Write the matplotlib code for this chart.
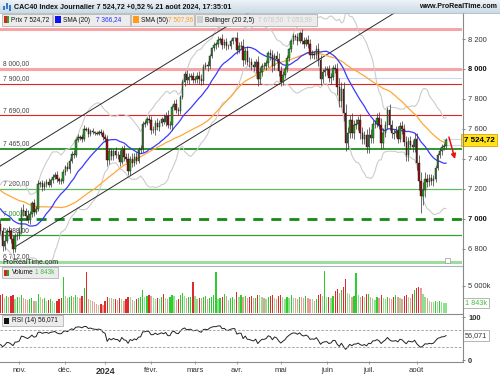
import numpy as np
import pandas as pd
import matplotlib
matplotlib.use("Agg")
import matplotlib.pyplot as plt
import matplotlib.transforms as mtrans
from matplotlib.patches import Rectangle
from matplotlib.lines import Line2D

plt.rcParams['font.family'] = ['Liberation Sans', 'DejaVu Sans']

W, H = 500, 375

# ---------------- data ----------------
# closes before the visible window (Aug 9 - Oct 18, 2023), used only for the indicators
pre_close = [7322, 7390, 7341, 7328, 7267, 7260, 7211, 7164, 7204, 7224, 7253, 7214, 7229, 7288, 7370, 7364, 7317,
             7296, 7280, 7256, 7240, 7197, 7241, 7279, 7245, 7222, 7308, 7379, 7290, 7282, 7330, 7214, 7184, 7123,
             7074, 7071, 7116, 7135,
             7068, 7033, 7021, 7072, 7060, 7022, 7131, 7162, 7104, 7003, 7023, 7017, 6966]

close_oct = [6916, 6816, 6851, 6915, 6914, 6863, 6795, 6881, 6886]
close_nov = [6911, 7060, 7048, 7016, 6990, 7034, 7101, 7045, 7062, 7234, 7236, 7209, 7233, 7245, 7226, 7260,
             7277, 7293, 7265, 7251, 7250, 7311]
close_dec = [7346, 7330, 7386, 7434, 7422, 7526, 7544, 7543, 7531, 7597, 7596, 7568, 7587, 7576, 7571, 7568,
             7578, 7572, 7543]
close_jan = [7530, 7394, 7450, 7420, 7450, 7427, 7426, 7380, 7465, 7411, 7398, 7318, 7401, 7372, 7413, 7388,
             7456, 7464, 7634, 7640, 7665, 7656]
close_feb = [7589, 7592, 7641, 7612, 7636, 7665, 7647, 7689, 7625, 7625, 7743, 7768, 7728, 7720, 7812, 7911,
             7966, 7929, 7948, 7954, 7927]
close_mar = [7934, 7956, 7931, 7917, 8016, 8028, 8019, 8088, 8138, 8161, 8164, 8195, 8201, 8161, 8179, 8151,
             8151, 8184, 8204, 8205]
close_apr = [8130, 8153, 8154, 8062, 8119, 8049, 8045, 8024, 8011, 8045, 7932, 7981, 8023, 8022, 8040, 8106,
             8091, 8017, 8088, 8065, 7985]
close_may = [7915, 7957, 7997, 8075, 8131, 8187, 8219, 8215, 8188, 8240, 8188, 8167, 8195, 8169, 8092, 8102,
             8094, 8132, 8058, 7935, 7978, 7993]
close_jun = [7998, 7937, 7949, 8006, 8002, 7877, 7789, 7865, 7708, 7503, 7571, 7660, 7570, 7628, 7629, 7662,
             7574, 7531, 7557, 7479]
close_jul = [7561, 7538, 7632, 7634, 7675, 7628, 7508, 7573, 7627, 7724, 7627, 7571, 7570, 7586, 7534, 7622,
             7599, 7513, 7427, 7517, 7492, 7477, 7531]
close_aug = [7374, 7251, 7148, 7192, 7264, 7246, 7269, 7250, 7267, 7339, 7423, 7449, 7481, 7486, 7524.72]

wick_up = [30, 25, 40, 20, 35, 15, 30, 20, 25,
           30, 20, 35, 25, 40, 20, 15, 30, 20, 25, 18, 22, 15, 20, 25, 12, 18, 20, 25, 15, 20, 18,
           15, 30, 20, 18, 25, 12, 20, 15, 25, 30, 18, 15, 12, 20, 10, 15, 12, 18, 20,
           25, 30, 20, 25, 18, 30, 22, 35, 20, 25, 30, 40, 20, 35, 25, 30, 20, 25, 15, 20, 15, 25,
           30, 25, 20, 30, 25, 15, 35, 25, 40, 30, 15, 25, 30, 20, 15, 20, 18, 30, 25, 20, 25,
           20, 25, 30, 35, 15, 20, 25, 15, 12, 20, 18, 25, 15, 30, 20, 25, 18, 15, 12, 10,
           40, 25, 30, 45, 20, 35, 30, 25, 30, 20, 40, 35, 20, 25, 18, 15, 25, 35, 20, 30, 40,
           35, 30, 20, 15, 12, 15, 20, 18, 25, 15, 30, 25, 20, 35, 30, 25, 20, 25, 40, 35, 20, 30,
           25, 30, 25, 20, 30, 40, 60, 45, 50, 60, 40, 30, 45, 30, 35, 25, 40, 35, 30, 45,
           50, 40, 30, 25, 30, 35, 45, 30, 25, 20, 40, 35, 25, 30, 35, 25, 30, 35, 40, 30, 35, 30, 40,
           40, 50, 60, 55, 45, 35, 30, 30, 25, 20, 15, 20, 18, 20, 15]
wick_dn = [20, 30, 25, 15, 30, 25, 22, 20, 25,
           25, 15, 30, 25, 20, 25, 20, 30, 15, 10, 20, 25, 15, 20, 18, 15, 20, 12, 22, 18, 20, 15,
           20, 15, 25, 15, 20, 10, 15, 20, 18, 15, 12, 20, 15, 10, 15, 12, 10, 15, 20,
           20, 40, 30, 25, 30, 20, 25, 30, 15, 25, 20, 27, 25, 30, 20, 25, 15, 20, 20, 25, 15, 20,
           25, 20, 30, 20, 25, 20, 15, 30, 20, 25, 30, 20, 25, 30, 20, 15, 25, 20, 30, 25, 20,
           20, 25, 30, 25, 20, 15, 30, 20, 15, 20, 25, 15, 20, 30, 18, 25, 20, 15, 18, 15,
           30, 25, 20, 40, 30, 25, 35, 30, 25, 35, 45, 30, 25, 20, 30, 25, 30, 40, 25, 20, 30,
           30, 25, 20, 15, 20, 15, 18, 20, 25, 15, 20, 25, 15, 30, 25, 20, 30, 25, 35, 40, 30, 25,
           30, 25, 35, 20, 30, 50, 45, 40, 55, 50, 40, 35, 30, 40, 30, 35, 40, 30, 35, 40,
           40, 35, 30, 25, 20, 30, 40, 35, 30, 25, 35, 30, 35, 25, 30, 20, 35, 30, 45, 40, 30, 35, 30,
           50, 60, 110, 60, 45, 35, 30, 25, 30, 20, 15, 20, 25, 20, 20]

volume_k = [3300, 3500, 2700, 3100, 2900, 3200, 3400, 2500, 3000,
            2900, 3400, 2800, 2600, 2400, 2500, 2700, 2300, 2200, 3600, 3000, 2600, 2800, 2200, 2400, 2600,
            2300, 1900, 2200, 2500, 2700, 6700,
            3200, 2800, 3000, 3100, 2900, 3300, 3000, 2800, 3200, 4600, 7600, 2600, 2400, 2300, 2100, 1600,
            1500, 1700, 1400,
            2200, 3000, 2800, 2700, 2500, 2600, 2400, 2800, 2500, 2300, 2600, 3000, 2900, 2400, 2300, 2500,
            2800, 3000, 4300, 2900, 3100, 3400,
            3200, 2700, 2500, 2800, 2600, 2900, 3600, 2700, 2500, 3000, 3300, 3100, 2400, 2600, 3400, 3700,
            3200, 2700, 2900, 3000, 5700,
            3100, 2600, 2800, 2700, 2900, 3100, 2600, 2800, 3000, 3300, 7600, 2500, 2700, 2900, 3600, 3200,
            2400, 2800, 2900, 2600,
            3800, 3000, 3300, 2900, 3100, 2800, 3000, 3200, 2700, 2800, 3400, 3300, 2900, 2700, 2500, 2900,
            3100, 3300, 2800, 2600, 3200,
            3400, 3000, 2600, 2900, 2700, 3300, 2800, 2700, 2600, 3000, 2900, 2800, 3100, 2700, 2600, 2500,
            2200, 2500, 3300, 3500, 3100, 7800,
            2900, 3000, 2800, 3200, 4000, 4500, 3700, 4200, 4800, 6300, 3700, 3500, 3000, 3200, 7400, 3400,
            3000, 3200, 2900, 3500,
            3600, 3000, 2700, 2400, 2900, 2700, 3300, 2800, 2600, 3000, 2700, 2600, 2900, 3400, 3000, 2800,
            2600, 3200, 3300, 3000, 2800, 3600, 4300,
            4600, 4800, 4600, 3500, 3000, 2800, 2200, 2100, 2000, 2300, 2100, 2200, 2000, 1900, 1843]

holidays = ['2023-12-25', '2023-12-26', '2024-01-01', '2024-03-29', '2024-04-01', '2024-05-01']
month_starts = ['2023-11-01', '2023-12-01', '2024-01-01', '2024-02-01', '2024-03-01', '2024-04-01',
                '2024-05-01', '2024-06-01', '2024-07-01', '2024-08-01']
month_labels = ['nov.', 'déc.', '2024', 'févr.', 'mars', 'avr.', 'mai', 'juin', 'juil.', 'août']

levels = [8270, 8000, 7900, 7690, 7465, 7200, 7000, 6888, 6712]
level_labels = ['8 270,00', '8 000,00', '7 900,00', '7 690,00', '7 465,00', '7 200,00', '7 000,00',
                '6 888,00', '6 712,00']
level_colors = ['#f5a5a5', '#f5a5a5', '#e02424', '#e02424', '#1f8f1f', '#62bb62', '#168a16', '#34a034',
                '#9edb9e']
level_widths = [2.2, 2.2, 0.8, 0.8, 1.3, 0.9, 2.0, 0.9, 2.2]

price_ticks = [6800, 7000, 7200, 7400, 7600, 7800, 8000, 8200]
price_ticklabels = ['6 800', '7 000', '7 200', '7 400', '7 600', '7 800', '8 000', '8 200']

# trend channel anchors (trading-day index, price)
lower_chan = [(6.0, 6803), (162.3, 8150)]
upper_chan_start = (-0.23, 7350)
# red arrow anchors
arrow_from = (214.4, 7545)
arrow_to = (217.3, 7398)

last_price = 7524.72
sma20_last_txt, sma50_last_txt = '7 366,24', '7 507,96'
bb_txt = '7 678,50  7 053,99'
rsi_last_txt = '56,071'
vol_last_txt = '1 843k'

# ---------------- derived series ----------------
close = close_oct + close_nov + close_dec + close_jan + close_feb + close_mar + close_apr + close_may \
    + close_jun + close_jul + close_aug
dates = pd.bdate_range('2023-10-19', '2024-08-21')
dates = dates[~dates.isin(pd.to_datetime(holidays))]
n = len(close)
x = np.arange(n)

allc = pd.Series(pre_close + close, dtype=float)
sma20 = allc.rolling(20).mean().values[-n:]
sma50 = allc.rolling(50).mean().values[-n:]
std20 = allc.rolling(20).std(ddof=0).values[-n:]
bb_up = sma20 + 2.5 * std20
bb_dn = sma20 - 2.5 * std20
d = allc.diff()
g = d.clip(lower=0).ewm(alpha=1 / 14, adjust=False).mean()
l = (-d.clip(upper=0)).ewm(alpha=1 / 14, adjust=False).mean()
rsi = (100 - 100 / (1 + g / l)).values[-n:]

c = np.array(close, dtype=float)
o = np.r_[pre_close[-1], c[:-1]]
hi = np.maximum(o, c) + np.array(wick_up)
lo = np.minimum(o, c) - np.array(wick_dn)
up = c >= o

# ---------------- figure ----------------
fig = plt.figure(figsize=(W / 100, H / 100), dpi=100)
fig.patch.set_facecolor('white')


def fy(y):
    return 1 - y / H


def frect(x0, y0, w, h, **kw):
    fig.add_artist(Rectangle((x0 / W, fy(y0 + h)), w / W, h / H, transform=fig.transFigure, **kw))


def fline(x0, y0, x1, y1, **kw):
    fig.add_artist(Line2D([x0 / W, x1 / W], [fy(y0), fy(y1)], transform=fig.transFigure, **kw))


PW = 462
axp = fig.add_axes([0, fy(265), PW / W, 252 / H])
axv = fig.add_axes([0, fy(313), PW / W, 47 / H], sharex=axp)
axr = fig.add_axes([0, fy(361), PW / W, 47 / H], sharex=axp)
for a in (axp, axv, axr):
    for s in a.spines.values():
        s.set_visible(False)
    a.tick_params(axis='x', which='both', bottom=False, labelbottom=False)
    a.yaxis.tick_right()
    a.tick_params(axis='y', length=2.5, width=0.5, color='#555555', pad=2, labelsize=5.4,
                  labelcolor='#333333')

axp.set_xlim(-0.23, 220.65)
axp.set_ylim(6690, 8374)

# price panel ------------------------------------------------
blend = mtrans.blended_transform_factory(axp.transAxes, axp.transData)
for lv, lab, col, lw in zip(levels, level_labels, level_colors, level_widths):
    if lv == 7000:
        axp.axhline(lv, color=col, lw=lw, dashes=(3.6, 2.9), zorder=1)
        tcol = '#2a9a2a'
    else:
        axp.axhline(lv, color=col, lw=lw, zorder=1)
        tcol = '#444444'
    axp.text(0.006, lv + 12, lab, transform=blend, fontsize=4.9, color=tcol, va='bottom', ha='left', zorder=2)

# faint horizontal marks on the right part
axp.hlines(7940, 161, 221, color='#cfd8f2', lw=0.8, zorder=1)
axp.hlines([7530, 7492], 211, 221, color='#cfd8f2', lw=0.8, zorder=1)

# channel lines
slope = (lower_chan[1][1] - lower_chan[0][1]) / (lower_chan[1][0] - lower_chan[0][0])
xe = 240
axp.plot([lower_chan[0][0], xe], [lower_chan[0][1], lower_chan[0][1] + slope * (xe - lower_chan[0][0])],
         color='#2a2a2a', lw=0.7, zorder=3)
axp.plot([upper_chan_start[0], xe], [upper_chan_start[1], upper_chan_start[1] + slope * (xe - upper_chan_start[0])],
         color='#2a2a2a', lw=0.7, zorder=3)

# indicators
axp.plot(x, bb_up, color='#cccccc', lw=0.8, zorder=2)
axp.plot(x, bb_dn, color='#cccccc', lw=0.8, zorder=2)
axp.plot(x, sma50, color='#ffa83a', lw=0.9, zorder=3)
axp.plot(x, sma20, color='#3a3aff', lw=0.9, zorder=3)

# candles
axp.vlines(x, lo, hi, color='#333333', lw=0.5, zorder=4)
body = np.where(np.abs(c - o) < 3, np.where(up, 3, -3), c - o)
axp.bar(x, body, bottom=o, width=0.72, color=np.where(up, '#25a025', '#951212'),
        edgecolor='#1a1a1a', linewidth=0.3, zorder=5)

axp.annotate('', xy=arrow_to, xytext=arrow_from,
             arrowprops=dict(arrowstyle='-|>', color='#ee1111', lw=1.1, mutation_scale=7,
                             shrinkA=0, shrinkB=0), zorder=6)

axp.set_yticks(price_ticks)
axp.set_yticklabels(price_ticklabels)
for t in axp.get_yticklabels():
    if t.get_text() in ('8 000', '7 000'):
        t.set_fontweight('bold')
        t.set_color('#111111')
axp.text(1.004, last_price, '7 524,72', transform=blend, fontsize=5.8, fontweight='bold', va='center',
         ha='left', clip_on=False, zorder=10,
         bbox=dict(boxstyle='square,pad=0.3', fc='#ffe21a', ec='#e0a000', lw=0.6))

# volume panel -------------------------------------------------
vk = np.array(volume_k, dtype=float)
lighter = np.r_[False, vk[1:] < vk[:-1]]
vcol = np.where(up, np.where(lighter, '#90e090', '#2ecc2e'), np.where(lighter, '#ee9a9a', '#dd2a2a'))
axv.bar(x, vk, width=0.6, color=vcol, linewidth=0)
axv.set_ylim(0, 8700)
axv.set_yticks([5000])
axv.set_yticklabels(['5 000k'])
vblend = mtrans.blended_transform_factory(axv.transAxes, axv.transData)
axv.text(1.006, 1843, vol_last_txt, transform=vblend, fontsize=5.2, color='#44bb44', va='center', ha='left',
         clip_on=False, bbox=dict(boxstyle='square,pad=0.25', fc='white', ec='#aaaaaa', lw=0.6))

# RSI panel ----------------------------------------------------
axr.plot(x, rsi, color='#222222', lw=0.7)
axr.axhline(70, color='#999999', lw=0.6, dashes=(3, 2))
axr.axhline(30, color='#999999', lw=0.6, dashes=(3, 2))
axr.set_ylim(-2.3, 107)
axr.set_yticks([0, 100])
axr.set_yticklabels(['0', '100'], fontweight='bold')
rblend = mtrans.blended_transform_factory(axr.transAxes, axr.transData)
axr.text(1.006, rsi[-1], rsi_last_txt, transform=rblend, fontsize=5.2, color='#333333', va='center',
         ha='left', clip_on=False, bbox=dict(boxstyle='square,pad=0.25', fc='white', ec='#aaaaaa', lw=0.6))

tick_pos = [int(np.searchsorted(dates.values, np.datetime64(m))) for m in month_starts]
axr.set_xticks(tick_pos)
axr.set_xticklabels(month_labels)
axr.tick_params(axis='x', bottom=True, labelbottom=True, length=2.5, width=0.5, color='#777777',
                labelsize=5.6, pad=2, labelcolor='#333333')
for t in axr.get_xticklabels():
    if t.get_text() == '2024':
        t.set_fontweight('bold')
        t.set_fontsize(6.4)

# ---------------- frame / separators ----------------
fline(0, 265.5, PW, 265.5, color='#a9b6be', lw=0.8)
fline(0, 313.5, PW, 313.5, color='#8a8a8a', lw=0.8)
fline(0, 361.5, PW, 361.5, color='#8a8a8a', lw=0.8)
fline(PW + 0.5, 13, PW + 0.5, 361.5, color='#8a8a8a', lw=0.8)

# title bar
tax = fig.add_axes([0, fy(13), 1, 13 / H])
tax.imshow(np.linspace(0, 1, 20).reshape(-1, 1), aspect='auto',
           cmap=matplotlib.colors.LinearSegmentedColormap.from_list('tb', ['#edf3f7', '#cbdbe6']),
           extent=[0, 1, 0, 1], origin='upper')
tax.axis('off')
fline(0, 13, W, 13, color='#a9b9c4', lw=0.6)
for bx, by0, by1 in [(3.5, 6, 10), (6.5, 3, 9), (9.5, 5, 11)]:
    frect(bx - 1, by0, 2, by1 - by0, fc='#3a78c8', ec='none')
fig.text(14 / W, fy(7), 'CAC40 Index Journalier 7 524,72 +0,52 % 21 août 2024, 17:35:01', fontsize=5.1,
         fontweight='bold', va='center', ha='left', color='#111111')
fig.text(497 / W, fy(7), 'www.ProRealTime.com', fontsize=5.1, fontweight='bold', va='center', ha='right',
         color='#111111')

# legend boxes
LFS = 4.7
frect(2, 14, 50, 11.5, fc='#ececec', ec='#b4b4b4', lw=0.6)
frect(4, 16.5, 2.5, 6, fc='#dd2222', ec='none')
frect(6.5, 16.5, 2.5, 6, fc='#22aa22', ec='none')
fig.text(11 / W, fy(20), 'Prix 7 524,72', fontsize=LFS, va='center', color='#111111')

frect(53, 14, 77, 11.5, fc='#ececec', ec='#b4b4b4', lw=0.6)
frect(55, 16.5, 6, 6, fc='#1010ee', ec='none')
fig.text(63 / W, fy(20), 'SMA (20)', fontsize=LFS, va='center', color='#111111')
fig.text(96 / W, fy(20), sma20_last_txt, fontsize=LFS, va='center', color='#2a2aff')

frect(131, 14, 63, 11.5, fc='#ececec', ec='#b4b4b4', lw=0.6)
frect(133, 16.5, 6, 6, fc='#ff9a1a', ec='none')
fig.text(141 / W, fy(20), 'SMA (50)', fontsize=LFS, va='center', color='#111111')
fig.text(168 / W, fy(20), sma50_last_txt, fontsize=LFS, va='center', color='#ff9a1a')

frect(195, 14, 122, 11.5, fc='#ececec', ec='#b4b4b4', lw=0.6)
frect(197, 16.5, 6, 6, fc='#cfcfcf', ec='none')
fig.text(205 / W, fy(20), 'Bollinger (20 2,5)', fontsize=LFS, va='center', color='#111111')
fig.text(258 / W, fy(20), bb_txt, fontsize=LFS, va='center', color='#c8c8c8')

frect(2, 267, 56, 11, fc='#ececec', ec='#b4b4b4', lw=0.6)
frect(4, 269.5, 2.5, 6, fc='#dd2222', ec='none')
frect(6.5, 269.5, 2.5, 6, fc='#22aa22', ec='none')
fig.text(12 / W, fy(272.8), 'Volume', fontsize=LFS, va='center', color='#111111')
fig.text(35 / W, fy(272.8), vol_last_txt, fontsize=LFS, va='center', color='#44bb44')

frect(2, 315, 61, 11, fc='#ececec', ec='#b4b4b4', lw=0.6)
frect(4, 317.5, 5, 6, fc='#111111', ec='none')
fig.text(12 / W, fy(320.8), 'RSI (14) ' + rsi_last_txt, fontsize=LFS, va='center', color='#111111')

fig.text(2 / W, fy(262), 'ProRealTime.com', fontsize=5.0, va='center', color='#222222')
frect(445, 258, 5, 5, fc='white', ec='#999999', lw=0.5)

fig.savefig('out.png', dpi=100)
